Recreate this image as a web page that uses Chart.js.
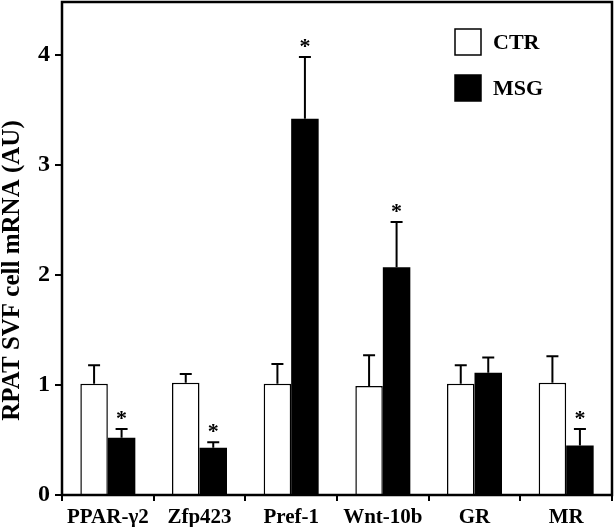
<!DOCTYPE html>
<html>
<head>
<meta charset="utf-8">
<script src="https://cdn.jsdelivr.net/npm/chart.js@4"></script>
<style>
  html, body { margin: 0; padding: 0; background: #fff; }
  #wrap { width: 614px; height: 527px; }
</style>
</head>
<body>
<div id="wrap"><canvas id="mrnaChart"></canvas></div>
<script>
const genes = ['PPAR-γ2', 'Zfp423', 'Pref-1', 'Wnt-10b', 'GR', 'MR'];
const ctrValues = [1.01, 1.02, 1.01, 0.99, 1.01, 1.02];
const ctrErrors = [0.17, 0.08, 0.18, 0.28, 0.17, 0.24];
const msgValues = [0.52, 0.43, 3.42, 2.07, 1.11, 0.45];
const msgErrors = [0.08, 0.05, 0.56, 0.41, 0.14, 0.15];
const msgSignificant = [true, true, true, true, false, true];
const yTicks = [0, 1, 2, 3, 4];
const yTitle = 'RPAT SVF cell mRNA (AU)';

const serif = '"Liberation Serif", "Times New Roman", serif';

// error bars (upper half only) + asterisks
const errorBars = {
    id: 'errorBars',
    afterDatasetsDraw(chart) {
        const ctx = chart.ctx;
        const y = chart.scales.y;
        ctx.save();
        ctx.strokeStyle = '#000';
        ctx.lineWidth = 2;
        chart.data.datasets.forEach((ds, i) => {
            const meta = chart.getDatasetMeta(i);
            meta.data.forEach((bar, j) => {
                const top = y.getPixelForValue(ds.data[j] + ds.errors[j]);
                ctx.beginPath();
                ctx.moveTo(bar.x, bar.y);
                ctx.lineTo(bar.x, top);
                ctx.moveTo(bar.x - 6, top);
                ctx.lineTo(bar.x + 6, top);
                ctx.stroke();
                if (ds.significant && ds.significant[j]) {
                    ctx.fillStyle = '#000';
                    ctx.font = 'bold 22px ' + serif;
                    ctx.textAlign = 'center';
                    ctx.textBaseline = 'alphabetic';
                    ctx.fillText('*', bar.x, top - 4);
                }
            });
        });
        ctx.restore();
    }
};

// box round the plot, y title (sits a bit below centre in the original) and legend
const frameAndLegend = {
    id: 'frameAndLegend',
    afterDraw(chart) {
        const ctx = chart.ctx;
        const a = chart.chartArea;
        ctx.save();
        ctx.strokeStyle = '#000';
        ctx.lineWidth = 2.5;
        ctx.strokeRect(a.left, a.top, a.right - a.left, a.bottom - a.top);

        ctx.save();
        ctx.translate(13, (a.top + a.bottom) / 2 + 22);
        ctx.rotate(-Math.PI / 2);
        ctx.font = 'bold 25px ' + serif;
        ctx.fillStyle = '#000';
        ctx.textAlign = 'center';
        ctx.textBaseline = 'middle';
        ctx.fillText(yTitle, 0, 0);
        ctx.restore();

        const x0 = a.right - 157;
        let y0 = a.top + 27;
        ctx.font = 'bold 22px ' + serif;
        ctx.textBaseline = 'middle';
        ctx.textAlign = 'left';
        chart.data.datasets.forEach(ds => {
            ctx.fillStyle = ds.backgroundColor;
            ctx.fillRect(x0, y0, 26, 26);
            ctx.lineWidth = 1.5;
            ctx.strokeRect(x0, y0, 26, 26);
            ctx.fillStyle = '#000';
            ctx.fillText(ds.label, x0 + 38, y0 + 14);
            y0 += 46;
        });
        ctx.restore();
    }
};

new Chart(document.getElementById('mrnaChart'), {
    type: 'bar',
    data: {
        labels: genes,
        datasets: [{
            label: 'CTR',
            data: ctrValues,
            errors: ctrErrors,
            backgroundColor: '#ffffff',
            borderColor: '#000',
            borderWidth: 1.5,
            categoryPercentage: 0.6,
            barPercentage: 1.0
        }, {
            label: 'MSG',
            data: msgValues,
            errors: msgErrors,
            significant: msgSignificant,
            backgroundColor: '#000000',
            borderColor: '#000',
            borderWidth: 0,
            categoryPercentage: 0.6,
            barPercentage: 1.0
        }]
    },
    options: {
        responsive: true,
        maintainAspectRatio: false,
        animation: false,
        layout: { padding: { top: 2, right: 2, left: 0, bottom: 0 } },
        plugins: { legend: { display: false }, tooltip: { enabled: false } },
        scales: {
            x: {
                afterFit: s => { s.height = 32; s.paddingLeft = 0; s.paddingRight = 0; },
                grid: { offset: true, drawOnChartArea: false, color: '#000', tickLength: 6, lineWidth: 2 },
                border: { color: '#000', width: 2 },
                ticks: { color: '#000', padding: 4, font: { family: serif, size: 21, weight: 'bold' } }
            },
            y: {
                min: 0,
                max: 4.48,
                afterFit: s => { s.width = 62; s.paddingTop = 0; s.paddingBottom = 0; },
                afterBuildTicks: s => { s.ticks = yTicks.map(v => ({ value: v })); },
                grid: { drawOnChartArea: false, color: '#000', tickLength: 7, lineWidth: 2 },
                border: { color: '#000', width: 2 },
                ticks: { color: '#000', padding: 5, font: { family: serif, size: 24, weight: 'bold' } }
            }
        }
    },
    plugins: [errorBars, frameAndLegend]
});
</script>
</body>
</html>
